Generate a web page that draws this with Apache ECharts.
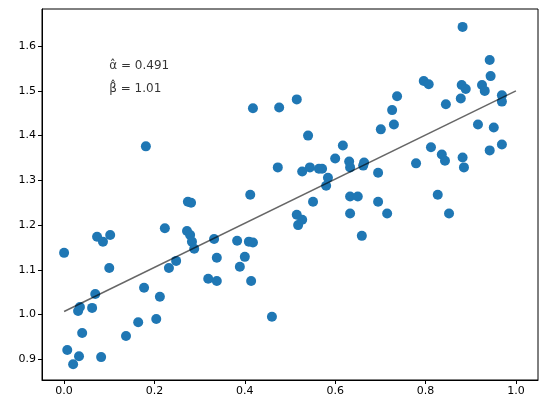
<!DOCTYPE html><html><head><meta charset="utf-8"><script src="https://cdn.jsdelivr.net/npm/echarts@6/dist/echarts.min.js"></script>
<style>html,body{margin:0;padding:0;background:#fff}#c{width:547px;height:413px}</style></head><body><div id="c"></div><script>
const xs=[0.0,0.007,0.02,0.033,0.035,0.031,0.04,0.062,0.069,0.073,0.086,0.1,0.102,0.082,0.137,0.164,0.177,0.181,0.204,0.212,0.223,0.232,0.248,0.272,0.274,0.281,0.279,0.283,0.288,0.319,0.332,0.338,0.338,0.383,0.389,0.4,0.409,0.412,0.414,0.418,0.418,0.46,0.473,0.476,0.515,0.515,0.518,0.527,0.527,0.54,0.544,0.551,0.564,0.571,0.58,0.584,0.6,0.617,0.631,0.633,0.633,0.633,0.65,0.659,0.662,0.664,0.695,0.695,0.701,0.715,0.726,0.73,0.737,0.779,0.796,0.807,0.812,0.827,0.836,0.845,0.852,0.843,0.878,0.88,0.882,0.882,0.885,0.889,0.916,0.925,0.931,0.942,0.942,0.944,0.951,0.969,0.969,0.969];
const ys=[1.138,0.921,0.889,0.907,1.017,1.008,0.959,1.015,1.046,1.174,1.163,1.104,1.178,0.905,0.952,0.983,1.06,1.376,0.99,1.04,1.193,1.104,1.12,1.187,1.252,1.25,1.178,1.163,1.147,1.08,1.169,1.127,1.075,1.165,1.107,1.129,1.163,1.268,1.075,1.161,1.461,0.995,1.329,1.463,1.481,1.223,1.2,1.212,1.32,1.4,1.329,1.252,1.326,1.326,1.288,1.306,1.349,1.378,1.342,1.329,1.264,1.226,1.264,1.176,1.333,1.34,1.317,1.252,1.414,1.226,1.457,1.425,1.488,1.338,1.522,1.515,1.374,1.268,1.358,1.47,1.226,1.344,1.483,1.513,1.643,1.351,1.329,1.504,1.425,1.513,1.5,1.367,1.569,1.533,1.418,1.49,1.476,1.38];
const lineX=[0,1];
const lineY=[1.007,1.5];
const xTicks=[0,0.2,0.4,0.6,0.8,1.0];
const yTicks=[0.9,1.0,1.1,1.2,1.3,1.4,1.5,1.6];
const labels=['\u03B1\u0302 = 0.491','\u03B2\u0302 = 1.01'];
const ch=echarts.init(document.getElementById('c'));
const ax={axisLine:{onZero:false,lineStyle:{color:'#000'}},axisTick:{length:4,lineStyle:{color:'#000'}},splitLine:{show:false},axisLabel:{color:'#000',fontSize:11,fontFamily:'DejaVu Sans',formatter:v=>v.toFixed(1)}};
ch.setOption({animation:false,
grid:{left:42,right:9,top:9,bottom:33,show:true,borderColor:'#000',borderWidth:1},
xAxis:{type:'value',min:-0.0489,max:1.0489,...ax,axisTick:{...ax.axisTick,customValues:xTicks},axisLabel:{...ax.axisLabel,customValues:xTicks,margin:6}},
yAxis:{type:'value',min:0.8538,max:1.683,...ax,axisTick:{...ax.axisTick,customValues:yTicks},axisLabel:{...ax.axisLabel,customValues:yTicks,margin:6}},
series:[
{type:'scatter',symbolSize:10,itemStyle:{color:'#1f77b4',opacity:1},data:xs.map((x,i)=>[x,ys[i]]),z:2},
{type:'line',symbol:'none',lineStyle:{color:'#000',opacity:0.6,width:1.5},data:lineX.map((x,i)=>[x,lineY[i]]),z:3},
{type:'scatter',symbolSize:0,data:[[0.1,1.555],[0.1,1.505]],label:{show:true,position:'right',distance:0,color:'#000',fontSize:12,fontFamily:'DejaVu Sans',formatter:p=>labels[p.dataIndex]}}
]});
</script></body></html>
